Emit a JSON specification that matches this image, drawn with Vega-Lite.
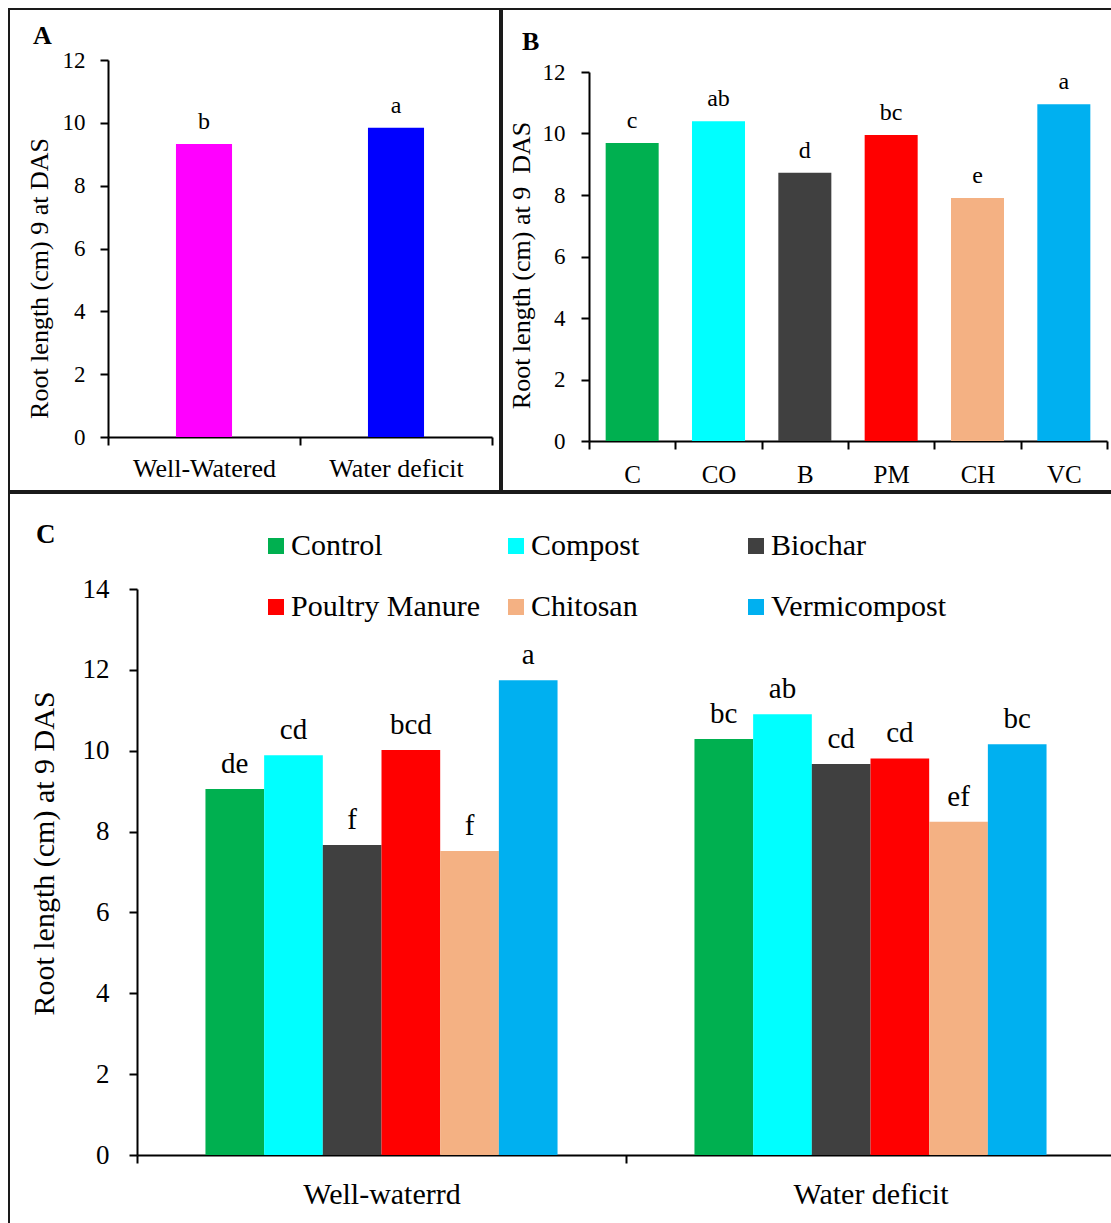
{
  "$schema": "https://vega.github.io/schema/vega-lite/v6.json",
  "padding": {"left": 8, "top": 8, "right": 0, "bottom": 0},
  "spacing": 0,
  "resolve": {"scale": {"color": "independent"}},
  "config": {
    "font": "Liberation Serif, Times New Roman, serif",
    "view": {"stroke": "#1a1a1a", "strokeWidth": 2},
    "axis": {
      "domainColor": "#000", "domainWidth": 2, "tickColor": "#000", "tickWidth": 2, "tickSize": 8,
      "labelColor": "#000", "titleColor": "#000", "grid": false,
      "labelFont": "Liberation Serif, Times New Roman, serif", "titleFont": "Liberation Serif, Times New Roman, serif", "titleFontWeight": "normal"
    },
    "legend": {"labelFont": "Liberation Serif, Times New Roman, serif"},
    "title": {"color": "#000", "font": "Liberation Serif, Times New Roman, serif", "fontWeight": "bold", "anchor": "start", "frame": "group", "baseline": "alphabetic"},
    "text": {"font": "Liberation Serif, Times New Roman, serif", "color": "#000"}
  },
  "datasets": {
    "A": [
      {"water": "Well-Watered", "value": 9.33, "letter": "b"},
      {"water": "Water deficit", "value": 9.84, "letter": "a"}
    ],
    "B": [
      {"amend": "C", "value": 9.69, "letter": "c"},
      {"amend": "CO", "value": 10.40, "letter": "ab"},
      {"amend": "B", "value": 8.72, "letter": "d"},
      {"amend": "PM", "value": 9.95, "letter": "bc"},
      {"amend": "CH", "value": 7.90, "letter": "e"},
      {"amend": "VC", "value": 10.95, "letter": "a"}
    ],
    "C": [
      {"water": "Well-waterrd", "amendment": "Control", "value": 9.05, "letter": "de"},
      {"water": "Well-waterrd", "amendment": "Compost", "value": 9.89, "letter": "cd"},
      {"water": "Well-waterrd", "amendment": "Biochar", "value": 7.67, "letter": "f"},
      {"water": "Well-waterrd", "amendment": "Poultry Manure", "value": 10.02, "letter": "bcd"},
      {"water": "Well-waterrd", "amendment": "Chitosan", "value": 7.52, "letter": "f"},
      {"water": "Well-waterrd", "amendment": "Vermicompost", "value": 11.74, "letter": "a"},
      {"water": "Water deficit", "amendment": "Control", "value": 10.29, "letter": "bc"},
      {"water": "Water deficit", "amendment": "Compost", "value": 10.90, "letter": "ab"},
      {"water": "Water deficit", "amendment": "Biochar", "value": 9.67, "letter": "cd"},
      {"water": "Water deficit", "amendment": "Poultry Manure", "value": 9.81, "letter": "cd"},
      {"water": "Water deficit", "amendment": "Chitosan", "value": 8.24, "letter": "ef"},
      {"water": "Water deficit", "amendment": "Vermicompost", "value": 10.16, "letter": "bc"}
    ]
  },
  "vconcat": [
    {
      "hconcat": [
        {
          "width": 491, "height": 482,
          "title": {"text": "A", "fontSize": 26, "offset": -40, "dx": 24},
          "data": {"name": "A"},
          "encoding": {
            "x": {"field": "water", "type": "nominal", "sort": null,
              "scale": {"range": [99, 483], "paddingInner": 0.708, "paddingOuter": 0.354},
              "axis": {"title": null, "labelAngle": 0, "bandPosition": 3.425, "tickExtra": true, "tickOffset": -67.97, "labelOffset": 67.97,
                "offset": -54, "labelFontSize": 26, "labelPadding": 10}},
            "y": {"field": "value", "type": "quantitative",
              "scale": {"domain": [0, 12], "range": [428, 51], "nice": false},
              "axis": {"values": [0, 2, 4, 6, 8, 10, 12], "offset": -99, "title": "Root length (cm) 9 at DAS",
                "titleFontSize": 26, "labelFontSize": 23, "labelPadding": 15,
                "titleX": -61, "titleY": 269, "titleAngle": -90, "titleBaseline": "alphabetic", "titleAlign": "center"}}
          },
          "layer": [
            {"mark": {"type": "bar"},
             "encoding": {"color": {"field": "water", "type": "nominal",
               "scale": {"domain": ["Well-Watered", "Water deficit"], "range": ["#FF00FF", "#0000FF"]}, "legend": null}}},
            {"mark": {"type": "text", "dy": -15, "baseline": "alphabetic", "fontSize": 24},
             "encoding": {"text": {"field": "letter"}}}
          ]
        },
        {
          "width": 616, "height": 482,
          "title": {"text": "B", "fontSize": 26, "offset": -46, "dx": 20},
          "data": {"name": "B"},
          "encoding": {
            "x": {"field": "amend", "type": "nominal", "sort": null,
              "scale": {"range": [87, 605], "paddingInner": 0.386, "paddingOuter": 0.193},
              "axis": {"title": null, "labelAngle": 0, "bandPosition": 1.6287, "tickExtra": true, "tickOffset": -16.66, "labelOffset": 16.66,
                "offset": -50, "labelFontSize": 25, "labelPadding": 13}},
            "y": {"field": "value", "type": "quantitative",
              "scale": {"domain": [0, 12], "range": [432, 63], "nice": false},
              "axis": {"values": [0, 2, 4, 6, 8, 10, 12], "offset": -87, "title": "Root length (cm) at 9 \u00a0DAS",
                "titleFontSize": 26, "labelFontSize": 23, "labelPadding": 16,
                "titleX": -60, "titleY": 256, "titleAngle": -90, "titleBaseline": "alphabetic", "titleAlign": "center"}}
          },
          "layer": [
            {"mark": {"type": "bar"},
             "encoding": {"color": {"field": "amend", "type": "nominal",
               "scale": {"domain": ["C", "CO", "B", "PM", "CH", "VC"], "range": ["#00B050", "#00FFFF", "#404040", "#FF0000", "#F4B183", "#00B0F0"]}, "legend": null}}},
            {"mark": {"type": "text", "dy": -15, "baseline": "alphabetic", "fontSize": 24},
             "encoding": {"text": {"field": "letter"}}}
          ]
        }
      ],
      "spacing": 0,
      "resolve": {"scale": {"color": "independent"}}
    },
    {
      "width": 1114, "height": 740,
      "title": {"text": "C", "fontSize": 27, "offset": -56, "dx": 27},
      "data": {"name": "C"},
      "encoding": {
        "x": {"field": "water", "type": "nominal", "sort": null,
          "scale": {"range": [128, 1106], "paddingInner": 0.28, "paddingOuter": 0.14},
          "axis": {"title": null, "labelAngle": 0, "bandPosition": 1.3889, "tickExtra": true, "tickOffset": -68.46, "labelOffset": 68.46,
            "offset": -78, "labelFontSize": 30, "labelPadding": 16}},
        "xOffset": {"field": "amendment", "type": "nominal", "sort": null, "scale": {"paddingInner": 0, "paddingOuter": 0}},
        "y": {"field": "value", "type": "quantitative",
          "scale": {"domain": [0, 14], "range": [662, 96], "nice": false},
          "axis": {"values": [0, 2, 4, 6, 8, 10, 12, 14], "offset": -128, "title": "Root length (cm) at 9 DAS",
            "titleFontSize": 30, "labelFontSize": 27, "labelPadding": 20,
            "titleX": -84, "titleY": 360, "titleAngle": -90, "titleBaseline": "alphabetic", "titleAlign": "center"}}
      },
      "layer": [
        {"mark": {"type": "bar"},
         "encoding": {"color": {"field": "amendment", "type": "nominal",
           "scale": {"domain": ["Control", "Compost", "Biochar", "Poultry Manure", "Chitosan", "Vermicompost"],
                     "range": ["#00B050", "#00FFFF", "#404040", "#FF0000", "#F4B183", "#00B0F0"]},
           "legend": {"title": null, "orient": "none", "legendX": 252, "legendY": 38, "columns": 3, "direction": "horizontal",
             "symbolType": "square", "symbolSize": 256, "symbolStrokeWidth": 0, "symbolOpacity": 1,
             "labelFontSize": 30, "labelColor": "#000", "labelOffset": 0, "labelLimit": 0,
             "columnPadding": 20, "rowPadding": 31, "gridAlign": "all", "padding": 0}}}},
        {"mark": {"type": "text", "dy": -16, "baseline": "alphabetic", "fontSize": 29},
         "encoding": {"text": {"field": "letter"}}}
      ]
    }
  ]
}
